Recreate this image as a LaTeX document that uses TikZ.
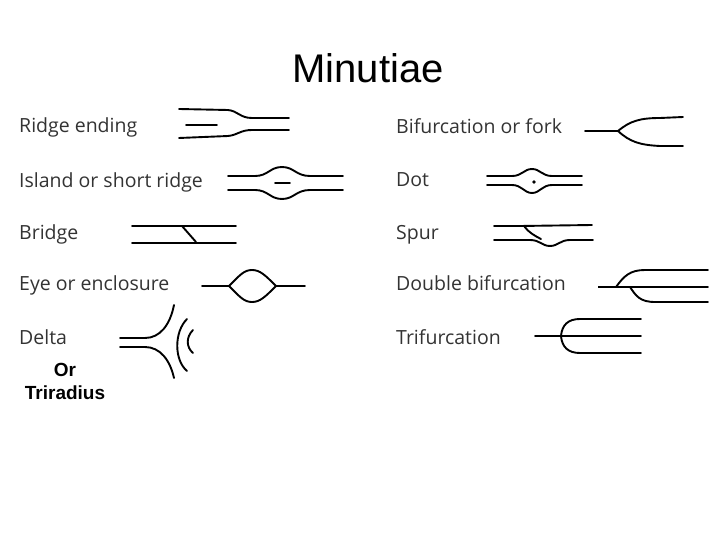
\documentclass[tikz,border=0pt]{standalone}
\usepackage{fontspec}
\setmainfont{Liberation Sans}
\newfontfamily\lbl{Open Sans}
\begin{document}
\begin{tikzpicture}[x=1pt,y=-1pt,
  rl/.style={line width=1.9pt,line cap=round},
  lab/.style={anchor=west,inner sep=0,font=\lbl\fontsize{19.5}{22}\selectfont,text=black!80}]
\useasboundingbox[fill=white] (0,0) rectangle (720,540);
\node (title) at (368,68) {\fontsize{40}{46}\selectfont Minutiae};
% left labels
\node[lab] (l1) at (19,127) {Ridge ending};
\node[lab] (l2) at (19,182) {Island or short ridge};
\node[lab] (l3) at (19,234) {Bridge};
\node[lab] (l4) at (19,285) {Eye or enclosure};
\node[lab] (l5) at (19,337) {Delta};
\node[align=center,inner sep=0,font=\fontsize{19}{23}\selectfont\bfseries] (l6) at (65,381) {Or\\Triradius};
% right labels
\node[lab] (r1) at (396,126) {Bifurcation or fork};
\node[lab] (r2) at (396,180) {Dot};
\node[lab] (r3) at (396,235) {Spur};
\node[lab] (r4) at (396,283) {Double bifurcation};
\node[lab] (r5) at (396,337) {Trifurcation};
% ridge ending
\draw[rl] (179,109) -- (228,110) .. controls (238,111) and (240,118) .. (252,118) -- (289,118);
\draw[rl] (186,125) -- (217,125);
\draw[rl] (179,138) -- (228,136) .. controls (238,135) and (240,130) .. (252,130) -- (289,130);
% island
\draw[rl] (228,176) -- (255,176) .. controls (268,176) and (270,167) .. (282,167) .. controls (294,167) and (296,176) .. (310,176) -- (343,176);
\draw[rl] (228,190) -- (255,190) .. controls (268,190) and (270,199) .. (282,199) .. controls (294,199) and (296,190) .. (310,190) -- (343,190);
\draw[rl] (275,183) -- (290,183);
% bridge
\draw[rl] (132,226) -- (236,226);
\draw[rl] (132,243) -- (236,243);
\draw[rl] (182,226) -- (196,242);
% eye
\draw[rl] (202,286) -- (229,286);
\draw[rl] (276,286) -- (305,286);
\draw[rl] (229,286) .. controls (240,275) and (244,270) .. (252,270) .. controls (260,270) and (265,275) .. (276,286)
  .. controls (265,297) and (260,302) .. (252,302) .. controls (244,302) and (240,297) .. (229,286);
% delta
\draw[rl] (120,338) -- (145,338) .. controls (160,338) and (170,325) .. (174,305);
\draw[rl] (120,347) -- (145,347) .. controls (160,347) and (170,360) .. (174,378);
\draw[rl] (187,319) .. controls (174,332) and (174,360) .. (187,371);
\draw[rl] (193,330) .. controls (186,337) and (186,347) .. (193,353);
% bifurcation
\draw[rl] (585,131) -- (618,131);
\draw[rl] (618,131) .. controls (630,121) and (640,118) .. (660,118) -- (683,117);
\draw[rl] (618,131) .. controls (630,142) and (640,145) .. (660,146) -- (683,146);
% dot
\draw[rl] (487,176) -- (512,176) .. controls (522,176) and (524,169) .. (532,169) .. controls (540,169) and (542,176) .. (552,176) -- (582,176);
\draw[rl] (487,185) -- (512,185) .. controls (522,185) and (524,193) .. (532,193) .. controls (540,193) and (542,185) .. (552,185) -- (582,185);
\fill (534,182) circle (1.8);
% spur
\draw[rl] (494,226) -- (520,226) -- (592,225);
\draw[rl] (494,240) -- (530,240) .. controls (540,240) and (542,246) .. (550,246) .. controls (558,246) and (560,240) .. (570,240) -- (593,240);
\draw[rl] (524,226) .. controls (528,232) and (535,236) .. (541,239);
% double bifurcation
\draw[line width=1.4pt] (598,287) -- (616,287);
\draw[rl] (616,287) .. controls (624,276) and (630,270) .. (645,270) -- (708,270);
\draw[rl] (616,287) -- (708,287);
\draw[rl] (630,287) .. controls (636,296) and (640,302) .. (655,302) -- (708,302);
% trifurcation
\draw[rl] (535,336) -- (641,336);
\draw[rl] (561,336) .. controls (562,325) and (568,319) .. (580,319) -- (641,319);
\draw[rl] (561,336) .. controls (562,347) and (568,353) .. (580,353) -- (641,353);
\end{tikzpicture}
\end{document}
